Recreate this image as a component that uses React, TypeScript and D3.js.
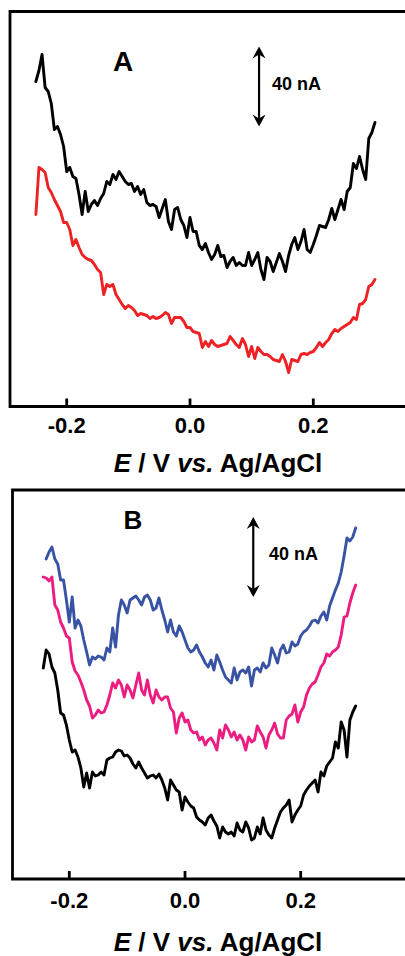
import React from "react";
import * as d3 from "d3";

// Potential grid (V) and step
const STEP = 0.005;
const A_START = -0.25;
const B_START = -0.245;
const B_BLUE_START = -0.24;

const xTickValues = [-0.2, 0, 0.2];
const xTickLabels = ["-0.2", "0.0", "0.2"];
const scaleBarNA = 40;

// Panel A currents (nA, arbitrary offset)
const aBlack = [
  162.5, 168, 176, 159.5, 157.5, 151.5, 138.5, 140, 136, 130, 117.5,
  119.5, 115, 114, 106, 96, 107.5, 97.5, 101, 103, 100.5,
  104, 106.5, 112.5, 111, 116, 113.5, 117.5, 115, 112.5, 111,
  111.5, 107.5, 110, 106, 108.5, 102, 100.5, 101, 100, 94.5,
  99, 103.5, 92.5, 88.5, 98.5, 99.5, 93.5, 90.5, 84.5, 94.5,
  87.5, 87.5, 80.5, 78.5, 81.5, 77, 73.5, 76, 80.5, 75,
  75.5, 69.5, 72.5, 74.5, 70.5, 72, 70.5, 70.5, 77, 70.5,
  73.5, 77, 68.5, 63.5, 74.5, 72.5, 67.5, 72, 76.5, 72.5,
  67.5, 75.5, 81, 84.5, 78.5, 82.5, 88.5, 78.5, 77, 81,
  85.5, 90.5, 90, 89.5, 93.5, 99, 93.5, 98.5, 103.5, 98.5,
  107.5, 109.5, 121.5, 119, 125, 118.5, 113.5, 134, 137, 142,
];
const aRed = [
  96, 119.5, 118.5, 117, 109.5, 107, 103.5, 100.5, 97.5, 92,
  92, 88.5, 80.5, 83.5, 79.5, 76, 74.5, 73.5, 73, 71,
  68.5, 67, 56, 61, 60, 61, 56, 53.5, 51, 49,
  50.5, 49.5, 48, 45.5, 46.5, 46, 45.5, 44, 45, 44,
  44.5, 45.5, 47, 46, 41.5, 44.5, 44.5, 44.5, 42.5, 39.5,
  39.5, 37.5, 37, 36.5, 29.5, 32.5, 30, 33, 31, 30,
  30.5, 31, 31.5, 35, 33, 31, 29.5, 34, 31, 25,
  30, 24, 29.5, 27.5, 26, 26, 25, 23.5, 23, 22.5,
  26, 22.5, 17, 23.5, 23, 22.5, 26, 26.5, 26, 27,
  27.5, 29.5, 32, 30, 32, 33.5, 36.5, 38.5, 37.5, 39,
  40, 41, 42, 44.5, 43.5, 51, 51.5, 53.5, 60, 61, 63.5,
];

// Panel B currents (nA, arbitrary offset)
const bBlue = [
  160, 163.5, 166, 160, 157.5, 149.5, 149.5, 139.5, 128.5, 141,
  125.5, 129.5, 126.5, 119.5, 113.5, 107, 111, 110, 111.5, 111,
  109.5, 115.5, 113.5, 125.5, 116, 132, 139.5, 137, 133, 139.5,
  140.5, 141.5, 139.5, 137, 141, 142, 139.5, 134.5, 135.5, 140.5,
  134.5, 129.5, 123.5, 129.5, 123.5, 121.5, 126.5, 123.5, 119.5, 115.5,
  113.5, 114.5, 117, 113.5, 111, 108, 106, 109.5, 104.5, 112,
  108.5, 104.5, 101, 99.5, 98, 105.5, 99.5, 103.5, 104.5, 103,
  106, 96.5, 104.5, 105.5, 103.5, 108, 105.5, 107, 115.5, 112,
  108, 114.5, 117, 113, 113.5, 118.5, 116.5, 117.5, 121.5, 123.5,
  124.5, 126.5, 129, 129.5, 128, 131.5, 133.5, 129.5, 136.5, 140.5,
  144.5, 148, 153.5, 161.5, 170.5, 169, 171, 175.5,
];
const bPink = [
  151, 150.5, 149, 151, 137, 134.5, 128.5, 125.5, 121.5, 120.5,
  108.5, 104, 102, 98.5, 94.5, 89.5, 86.5, 80.5, 82, 84.5,
  83, 83.5, 87, 92, 98, 95.5, 99.5, 97, 91, 97,
  94.5, 90.5, 97, 103, 94.5, 92, 99.5, 92, 88, 94.5,
  91, 89.5, 91, 91, 85.5, 83.5, 73, 80.5, 83, 78.5,
  79.5, 74.5, 73, 73.5, 69.5, 71, 67, 69.5, 70.5, 68,
  64.5, 74.5, 70.5, 77, 74.5, 71, 73.5, 69.5, 72, 69.5,
  64.5, 71, 68.5, 69.5, 76.5, 73.5, 71, 65.5, 72, 74.5,
  78, 72.5, 70.5, 70.5, 79.5, 81.5, 82.5, 87, 78.5, 83.5,
  86, 92, 95.5, 97.5, 98.5, 102, 106, 108, 112.5, 111.5,
  113.5, 114.5, 116, 122, 131, 131.5, 138, 143, 147,
];
const bBlack = [
  105.5, 114.5, 112.5, 106, 103, 94.5, 83, 82, 77, 69.5,
  63.5, 64.5, 61, 55.5, 46, 53, 45.5, 53.5, 51.5, 52,
  53.5, 52, 59.5, 60.5, 61, 63.5, 64.5, 64, 61.5, 62,
  60.5, 57.5, 55.5, 58.5, 55.5, 53, 50.5, 51.5, 52, 50.5,
  52.5, 49.5, 45.5, 39.5, 49.5, 47, 44.5, 43.5, 34.5, 41,
  38.5, 36.5, 35.5, 31, 29.5, 28.5, 27, 30.5, 32, 29,
  26.5, 20.5, 26, 23.5, 22.5, 23.5, 21.5, 28, 24.5, 23.5,
  28.5, 25.5, 19.5, 20.5, 26, 22.5, 30.5, 24.5, 22, 20.5,
  25.5, 29.5, 33.5, 35.5, 37, 39.5, 28.5, 32, 34.5, 36.5,
  42, 44.5, 46.5, 48, 49.5, 43.5, 53.5, 51.5, 56.5, 58.5,
  60.5, 68.5, 65.5, 78.5, 74.5, 61, 79.5, 83.5, 86.5,
];

const FONT = "'Liberation Sans', Arial, Helvetica, sans-serif";

type Series = { start: number; values: number[]; color: string };

function toPoints(s: Series): [number, number][] {
  return s.values.map((v, i) => [s.start + i * STEP, v] as [number, number]);
}

function Arrow({ x, y1, y2 }: { x: number; y1: number; y2: number }) {
  const hl = 12, hw = 6.5, notch = 8;
  return (
    <g>
      <line x1={x} x2={x} y1={y1 + 4} y2={y2 - 4} stroke="#000" strokeWidth={2.2} />
      <path d={`M${x},${y1} L${x - hw},${y1 + hl} L${x},${y1 + notch} L${x + hw},${y1 + hl} Z`} fill="#000" />
      <path d={`M${x},${y2} L${x - hw},${y2 - hl} L${x},${y2 - notch} L${x + hw},${y2 - hl} Z`} fill="#000" />
    </g>
  );
}

function Panel(props: {
  left: number; top: number; bottom: number;
  x0: number; x02: number; yMax: number;
  series: Series[]; label: string; labelX: number; labelY: number; labelSize: number;
  arrowE: number; arrowI0: number; barTextX: number; barTextY: number;
  tickBaseline: number; titleBaseline: number;
}) {
  const { left, top, bottom } = props;
  const x = d3.scaleLinear().domain([-0.2, 0.2]).range([props.x0, props.x02]);
  const y = d3.scaleLinear().domain([0, props.yMax]).range([bottom, top]);
  const line = d3.line<[number, number]>().x((d) => x(d[0])).y((d) => y(d[1])).curve(d3.curveLinear);
  return (
    <g>
      <path d={`M420,${top} H${left} V${bottom} H420`} fill="none" stroke="#000" strokeWidth={2.8} />
      {xTickValues.map((t, i) => (
        <g key={i}>
          <line x1={x(t)} x2={x(t)} y1={bottom} y2={bottom - 8} stroke="#000" strokeWidth={2.8} />
          <text x={x(t)} y={props.tickBaseline} textAnchor="middle" fontFamily={FONT} fontWeight="bold" fontSize={22}>
            {xTickLabels[i]}
          </text>
        </g>
      ))}
      {props.series.map((s, i) => (
        <path key={i} d={line(toPoints(s)) || ""} fill="none" stroke={s.color} strokeWidth={2.9} strokeLinejoin="round" strokeLinecap="round" />
      ))}
      <text x={props.labelX} y={props.labelY} textAnchor="middle" fontFamily={FONT} fontWeight="bold" fontSize={props.labelSize}>
        {props.label}
      </text>
      <Arrow x={x(props.arrowE)} y1={y(props.arrowI0 + scaleBarNA)} y2={y(props.arrowI0)} />
      <text x={props.barTextX} y={props.barTextY} fontFamily={FONT} fontWeight="bold" fontSize={18}>
        {`${scaleBarNA} nA`}
      </text>
      <text x={218} y={props.titleBaseline} textAnchor="middle" fontFamily={FONT} fontWeight="bold" fontSize={26}>
        <tspan fontStyle="italic">E</tspan>
        {" / V "}
        <tspan fontStyle="italic">vs.</tspan>
        {" Ag/AgCl"}
      </text>
    </g>
  );
}

export default function App() {
  return (
    <svg
      width={405}
      height={956}
      viewBox="0 0 405 956"
      style={{ position: "absolute", left: 0, top: 0, display: "block", background: "#fff" }}
    >
      <rect x={0} y={0} width={405} height={956} fill="#fff" />
      <Panel
        left={10} top={11.5} bottom={406.5}
        x0={66.7} x02={313.3} yMax={197.5}
        series={[
          { start: A_START, values: aBlack, color: "#000000" },
          { start: A_START, values: aRed, color: "#ee2124" },
        ]}
        label="A" labelX={123} labelY={71} labelSize={28}
        arrowE={0.112} arrowI0={140}
        barTextX={272} barTextY={90}
        tickBaseline={433} titleBaseline={472}
      />
      <Panel
        left={12.5} top={490} bottom={879}
        x0={69.3} x02={300.7} yMax={194.5}
        series={[
          { start: B_BLUE_START, values: bBlue, color: "#3953a4" },
          { start: B_START, values: bPink, color: "#ec1c80" },
          { start: B_START, values: bBlack, color: "#000000" },
        ]}
        label="B" labelX={133} labelY={529} labelSize={26}
        arrowE={0.118} arrowI0={141}
        barTextX={269} barTextY={560}
        tickBaseline={908} titleBaseline={951}
      />
    </svg>
  );
}
